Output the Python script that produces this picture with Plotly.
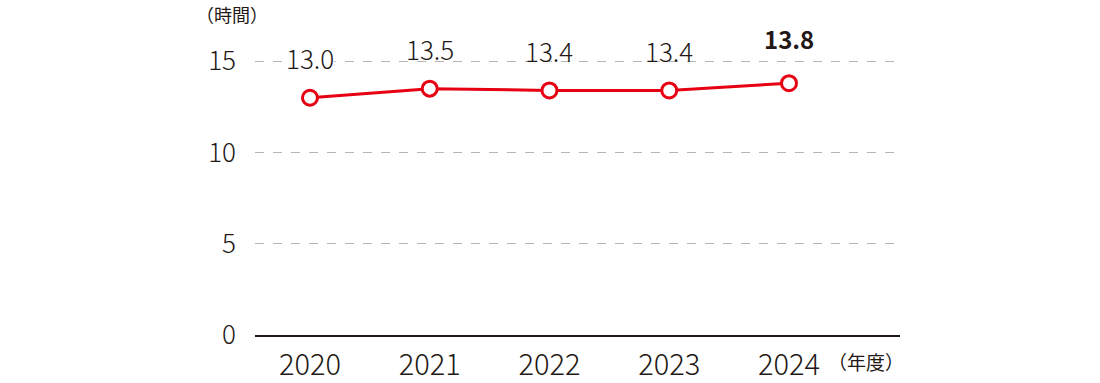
import plotly.graph_objects as go

years = ["2020", "2021", "2022", "2023", "2024"]
hours = [13.0, 13.5, 13.4, 13.4, 13.8]
y_ticks = [0, 5, 10, 15]

RED = "#E60012"
INK = "#231815"
FONT = "Noto Sans CJK JP"

W, H = 1100, 383
L, R, T, B = 255, 200, 43, 48

xi = list(range(len(years)))

fig = go.Figure()
fig.add_trace(go.Scatter(
    x=xi, y=hours, mode="lines+markers",
    line=dict(color=RED, width=3),
    marker=dict(size=15, color="white", line=dict(color=RED, width=3)),
    hoverinfo="skip", showlegend=False, cliponaxis=False,
))

for i, v in enumerate(hours):
    last = i == len(hours) - 1
    fig.add_annotation(
        x=i, y=v, xref="x", yref="y",
        text=(f"<b>{v:.1f}</b>" if last else f"{v:.1f}"),
        showarrow=False, yanchor="middle",
        yshift=45 if last else 40,
        font=dict(family=FONT, size=24 if last else 26, color=INK, weight=None if last else 300),
        bgcolor="white" if i == 0 else "rgba(0,0,0,0)",
        borderpad=0,
    )

fig.add_annotation(text="（時間）", xref="paper", yref="paper",
                   x=(232 - L) / (W - L - R), y=1 + (T - 14) / (H - T - B),
                   showarrow=False, xanchor="center", yanchor="middle",
                   font=dict(family=FONT, size=18, color=INK))
fig.add_annotation(text="（年度）", xref="paper", yref="paper",
                   x=(866 - L) / (W - L - R), y=-(361 - (H - B)) / (H - T - B),
                   showarrow=False, xanchor="center", yanchor="middle",
                   font=dict(family=FONT, size=19, color=INK))

fig.update_layout(
    width=W, height=H,
    margin=dict(l=L, r=R, t=T, b=B, pad=0, autoexpand=False),
    paper_bgcolor="white", plot_bgcolor="white",
    font=dict(family=FONT, color=INK),
    xaxis=dict(
        range=[-0.459, 4.927], tickmode="array", tickvals=xi, ticktext=years,
        showgrid=False, zeroline=False, automargin=False,
        showline=True, linecolor=INK, linewidth=1.5,
        ticks="", tickfont=dict(family=FONT, size=29, color=INK, weight=300),
        ticklabelstandoff=3, fixedrange=True,
    ),
    yaxis=dict(
        range=[0, 16], tickmode="array", tickvals=y_ticks,
        ticktext=[str(t) for t in y_ticks], automargin=False,
        showgrid=True, gridcolor="#b5b5b5", griddash="dash", gridwidth=1,
        zeroline=False, showline=False, ticks="",
        tickfont=dict(family=FONT, size=26, color=INK, weight=300),
        ticklabelstandoff=18, fixedrange=True,
    ),
)

fig.write_html("out.html")
